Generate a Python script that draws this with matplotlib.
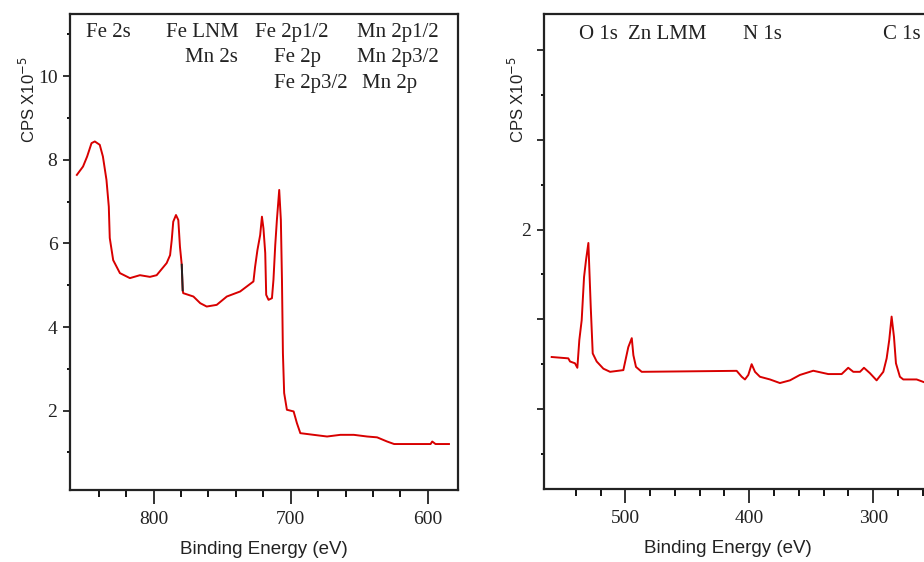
import matplotlib.pyplot as plt
from matplotlib.ticker import FixedLocator

# left survey: Fe / Mn region (binding energy eV, CPS x1e-5)
fe_be = [856, 851.5, 848.5, 845.3, 842.9, 839.3, 837, 834.4, 832.7, 832, 829.5,
         824.6, 817.3, 810, 802.7,
         797.8, 790.5, 788, 786.8, 785.7, 783.7, 782, 780.8, 779.5, 778.8, 778.4,
         771, 766, 761.3, 754, 746.6, 736.9, 727.2, 726, 724.3, 722.3, 721, 719.9,
         718.6, 717.9, 716.2, 713.7, 712.6, 711.3, 710.1, 708.4, 707.2, 706.4, 705.7,
         704.8, 702.8, 697.9, 695.5, 693, 683.3, 673.5, 663.8, 654, 644.3, 637,
         629.7, 624.6, 598, 596.8, 594.4, 584.6]
fe_cps = [7.64, 7.84, 8.08, 8.4, 8.44, 8.36, 8.08, 7.52, 6.88, 6.13, 5.6,
          5.29, 5.17, 5.24, 5.2,
          5.24, 5.53, 5.72, 6.08, 6.52, 6.68, 6.56, 5.92, 5.49, 4.88, 4.81,
          4.73, 4.57, 4.49, 4.53, 4.73, 4.85, 5.09, 5.44, 5.84, 6.2, 6.64, 6.36,
          5.77, 4.77, 4.65, 4.69, 5.13, 5.96, 6.56, 7.28, 6.56, 5.13, 3.37,
          2.42, 2.02, 1.98, 1.7, 1.46, 1.42, 1.38, 1.42, 1.42, 1.38, 1.36,
          1.26, 1.2, 1.2, 1.26, 1.2, 1.2]
# short dark piece of the trace after Fe LMM
fe_dark_be = [779.5, 778.8]
fe_dark_cps = [5.49, 4.88]

# right survey: O / Zn / N / C region
oc_be = [559.4, 546, 544.6, 540.6, 538.7, 537.1, 535.2, 533.3, 531.7, 529.8, 529,
         527.9, 526.3, 523.1, 517.7, 512.3, 501.6, 497.6, 494.8, 493.5, 491.4,
         486.8, 410.2, 406.1, 403.5, 400.8, 398.1, 395.4, 391.4, 383.3, 375.3,
         367.2, 359.2, 348.4, 336.3, 325.5, 320.2, 316.1, 310.7, 307.5, 302.7,
         297.3, 291.9, 289.2, 287.1, 285.2, 283.3, 281.7, 278.5, 275.8, 265,
         259.1, 250]
oc_cps = [0.58, 0.565, 0.53, 0.51, 0.46, 0.77, 0.99, 1.47, 1.66, 1.85, 1.55,
          1.14, 0.62, 0.53, 0.45, 0.415, 0.434, 0.69, 0.79, 0.6, 0.47,
          0.415, 0.426, 0.36, 0.33, 0.38, 0.5, 0.415, 0.36, 0.33, 0.29,
          0.32, 0.38, 0.427, 0.39, 0.39, 0.46, 0.415, 0.415, 0.46, 0.4,
          0.32, 0.415, 0.565, 0.77, 1.03, 0.805, 0.51, 0.36, 0.33, 0.33,
          0.3, 0.3]

fe_labels = ['Fe 2s', 'Fe LNM', 'Mn 2s', 'Fe 2p1/2', 'Fe 2p', 'Fe 2p3/2',
             'Mn 2p1/2', 'Mn 2p3/2', 'Mn 2p']
oc_labels = ['O 1s', 'Zn LMM', 'N 1s', 'C 1s']

red = '#d80000'
ink = '#222222'
serif = 'Liberation Serif'
sans = 'Liberation Sans'

fig = plt.figure(figsize=(9.24, 5.62), dpi=100)
W, H = 924, 562


def px_axes(l, t, r, b):
    return fig.add_axes([l / W, (H - b) / H, (r - l) / W, (b - t) / H])


def style(ax):
    for s in ax.spines.values():
        s.set_linewidth(1.6)
        s.set_color(ink)
    ax.tick_params(axis='x', which='major', direction='out', length=10, width=1.3,
                   pad=5, labelsize=14, colors=ink)
    ax.tick_params(axis='x', which='minor', direction='out', length=5, width=1.3)
    ax.tick_params(axis='y', which='major', direction='out', length=5, width=1.3,
                   pad=4, labelsize=14, colors=ink)
    ax.tick_params(axis='y', which='minor', direction='out', length=2, width=1.3)
    for lb in ax.get_xticklabels() + ax.get_yticklabels():
        lb.set_fontfamily(serif)


# ---- left panel
ax1 = px_axes(70, 14, 458, 490)
ax1.plot(fe_be, fe_cps, color=red, lw=1.4)
ax1.plot(fe_dark_be, fe_dark_cps, color=ink, lw=1.4)
ax1.set_xlim(861, 578)
ax1.set_ylim(0.1, 11.49)
ax1.set_xticks([800, 700, 600])
ax1.xaxis.set_minor_locator(FixedLocator([840, 820, 780, 760, 740, 720, 680, 660, 640, 620]))
ax1.set_yticks([2, 4, 6, 8, 10])
ax1.yaxis.set_minor_locator(FixedLocator([1, 3, 5, 7, 9, 11]))
style(ax1)
ax1.set_xlabel('Binding Energy (eV)', family=sans, fontsize=13.5, color=ink)
ax1.xaxis.set_label_coords(0.5, -0.107)
ax1.set_ylabel(r'CPS X10$^{-5}$', family=sans, fontsize=12, color=ink)
ax1.yaxis.set_label_coords(-0.082, 0.82)

tr1 = ax1.get_xaxis_transform()
lx = [849, 738.2, 738.2, 726, 712, 712, 652, 652, 648]
ly = [0.952, 0.952, 0.900, 0.952, 0.900, 0.844, 0.952, 0.900, 0.844]
ha = ['left', 'right', 'right', 'left', 'left', 'left', 'left', 'left', 'left']
for t, x, y, h in zip(fe_labels, lx, ly, ha):
    ax1.text(x, y, t, transform=tr1, ha=h, va='baseline', family=serif,
             fontsize=15, color=ink)

# ---- right panel (runs off the right edge like the original)
ax2 = px_axes(544, 14, 950, 489)
ax2.plot(oc_be, oc_cps, color=red, lw=1.4)
ax2.set_xlim(565.6, 238.1)
ax2.set_ylim(-0.89, 4.40)
ax2.set_xticks([500, 400, 300])
ax2.xaxis.set_minor_locator(FixedLocator([540, 520, 480, 460, 440, 420, 380, 360,
                                          340, 320, 280, 260]))
ax2.set_yticks([0, 1, 2, 3, 4])
ax2.set_yticklabels(['', '', '2', '', ''])
ax2.yaxis.set_minor_locator(FixedLocator([-0.5, 0.5, 1.5, 2.5, 3.5]))
style(ax2)
ax2.set_xlabel('Binding Energy (eV)', family=sans, fontsize=13.5, color=ink)
ax2.xaxis.set_label_coords(0.452, -0.107)
ax2.set_ylabel(r'CPS X10$^{-5}$', family=sans, fontsize=12, color=ink)
ax2.yaxis.set_label_coords(-0.042, 0.82)

tr2 = ax2.get_xaxis_transform()
rx = [537.1, 497.6, 404.8, 291.9]
for t, x in zip(oc_labels, rx):
    ax2.text(x, 0.947, t, transform=tr2, ha='left', va='baseline', family=serif,
             fontsize=15, color=ink)

fig.savefig('out.png', dpi=100)
